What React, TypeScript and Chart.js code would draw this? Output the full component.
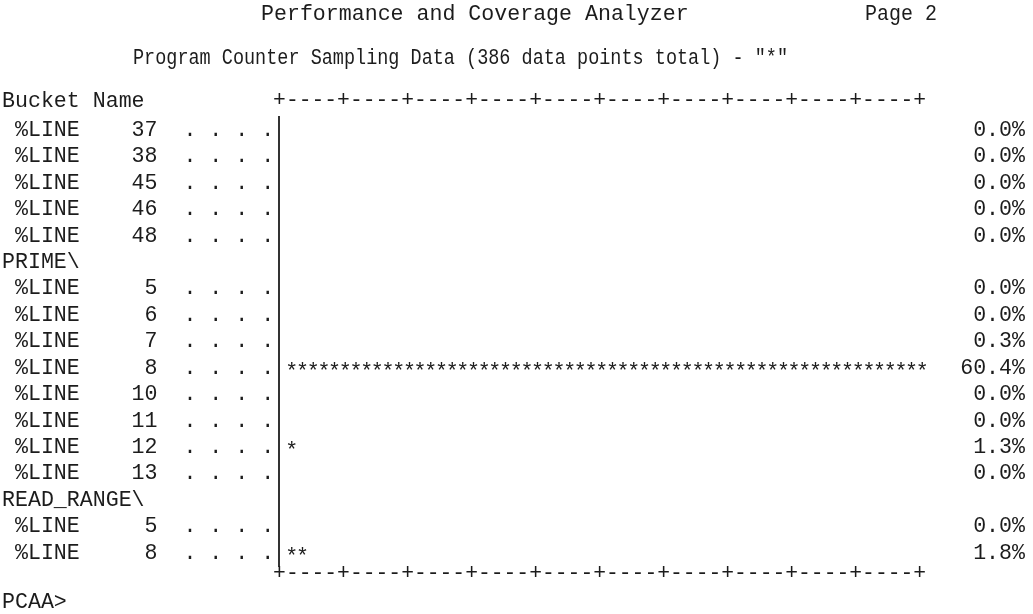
import React, { useEffect, useRef } from "react";
import { Chart, registerables } from "chart.js";

Chart.register(...registerables);

// ---- data ----
const bucketNames = [
  "%LINE", "%LINE", "%LINE", "%LINE", "%LINE",
  "PRIME\\",
  "%LINE", "%LINE", "%LINE", "%LINE", "%LINE", "%LINE", "%LINE", "%LINE",
  "READ_RANGE\\",
  "%LINE", "%LINE",
];
const lineNumbers: (number | null)[] = [
  37, 38, 45, 46, 48,
  null,
  5, 6, 7, 8, 10, 11, 12, 13,
  null,
  5, 8,
];
const percentages: (number | null)[] = [
  0.0, 0.0, 0.0, 0.0, 0.0,
  null,
  0.0, 0.0, 0.3, 60.4, 0.0, 0.0, 1.3, 0.0,
  null,
  0.0, 1.8,
];
const titleLine = "Performance and Coverage Analyzer";
const pageLabel = "Page 2";
const subtitleLine = 'Program Counter Sampling Data (386 data points total) - "*"';
const headerLabel = "Bucket Name";
const frameLine = "+----+----+----+----+----+----+----+----+----+----+";
const promptLine = "PCAA>";

const FONT = "'Liberation Mono', 'DejaVu Sans Mono', monospace";
const FONT_SIZE = 21.6;
const INK = "#1c1c1c";

function buildLabel(i: number): string {
  const n = lineNumbers[i];
  if (n === null) return bucketNames[i];
  return " " + bucketNames[i] + String(n).padStart(6, " ") + "  . . . .";
}

const rowLabels = bucketNames.map((_, i) => buildLabel(i));

const asciiPlugin = {
  id: "asciiDecor",
  afterDatasetsDraw(chart: any) {
    const { ctx, chartArea, scales } = chart;
    const xs = scales.x;
    const ys = scales.y;
    ctx.save();
    ctx.fillStyle = INK;
    ctx.font = `${FONT_SIZE}px ${FONT}`;
    ctx.textBaseline = "middle";

    // headings
    ctx.textAlign = "left";
    ctx.fillText(titleLine, 261, 14);
    ctx.fillText(pageLabel, 865, 14, 72);
    ctx.fillText(subtitleLine, 133, 58, 788 - 133);
    ctx.fillText(headerLabel, 2, 101);
    ctx.fillText(promptLine, 2, 602);

    // frame lines (top and bottom) starting at the axis line
    const frameLeft = chartArea.left - 5.9;
    const frameW = 653;
    ctx.fillText(frameLine, frameLeft, chartArea.top - 17, frameW);
    ctx.fillText(frameLine, frameLeft, chartArea.bottom + 7, frameW);

    // stars: one per percent, positioned via the x scale
    const meta = chart.getDatasetMeta(0);
    ctx.textAlign = "center";
    meta.data.forEach((el: any, i: number) => {
      const v = percentages[i];
      if (v === null) return;
      const n = Math.round(v);
      for (let k = 1; k <= n; k++) {
        ctx.fillText("*", xs.getPixelForValue(k - 0.5), el.y + 4);
      }
    });

    // percentage column
    ctx.textAlign = "right";
    percentages.forEach((v, i) => {
      if (v === null) return;
      ctx.fillText(v.toFixed(1) + "%", 1025, ys.getPixelForValue(i));
    });
    ctx.restore();
  },
};

export default function App() {
  const canvasRef = useRef<HTMLCanvasElement | null>(null);

  useEffect(() => {
    if (!canvasRef.current) return;
    const chart = new Chart(canvasRef.current, {
      type: "bar",
      data: {
        labels: rowLabels,
        datasets: [
          {
            data: percentages as any,
            backgroundColor: "rgba(0,0,0,0)",
            borderWidth: 0,
          },
        ],
      },
      options: {
        indexAxis: "y",
        animation: false,
        responsive: true,
        maintainAspectRatio: false,
        layout: { padding: { left: 2, top: 116.8, right: 84, bottom: 47.7 } },
        plugins: {
          legend: { display: false },
          tooltip: { enabled: false },
        },
        scales: {
          x: { display: false, min: -0.7, max: 62 },
          y: {
            type: "category",
            offset: true,
            grid: { display: false, drawTicks: false },
            border: { display: true, color: "#333", width: 2 },
            ticks: {
              autoSkip: false,
              crossAlign: "far",
              padding: 0,
              color: INK,
              font: { family: FONT, size: FONT_SIZE },
            },
            afterFit: (s: any) => {
              s.width = 277;
            },
          },
        },
      },
      plugins: [asciiPlugin],
    });
    return () => chart.destroy();
  }, []);

  return (
    <div style={{ position: "absolute", left: 0, top: 0, width: 1033, height: 614, background: "#fff" }}>
      <canvas ref={canvasRef} />
    </div>
  );
}
